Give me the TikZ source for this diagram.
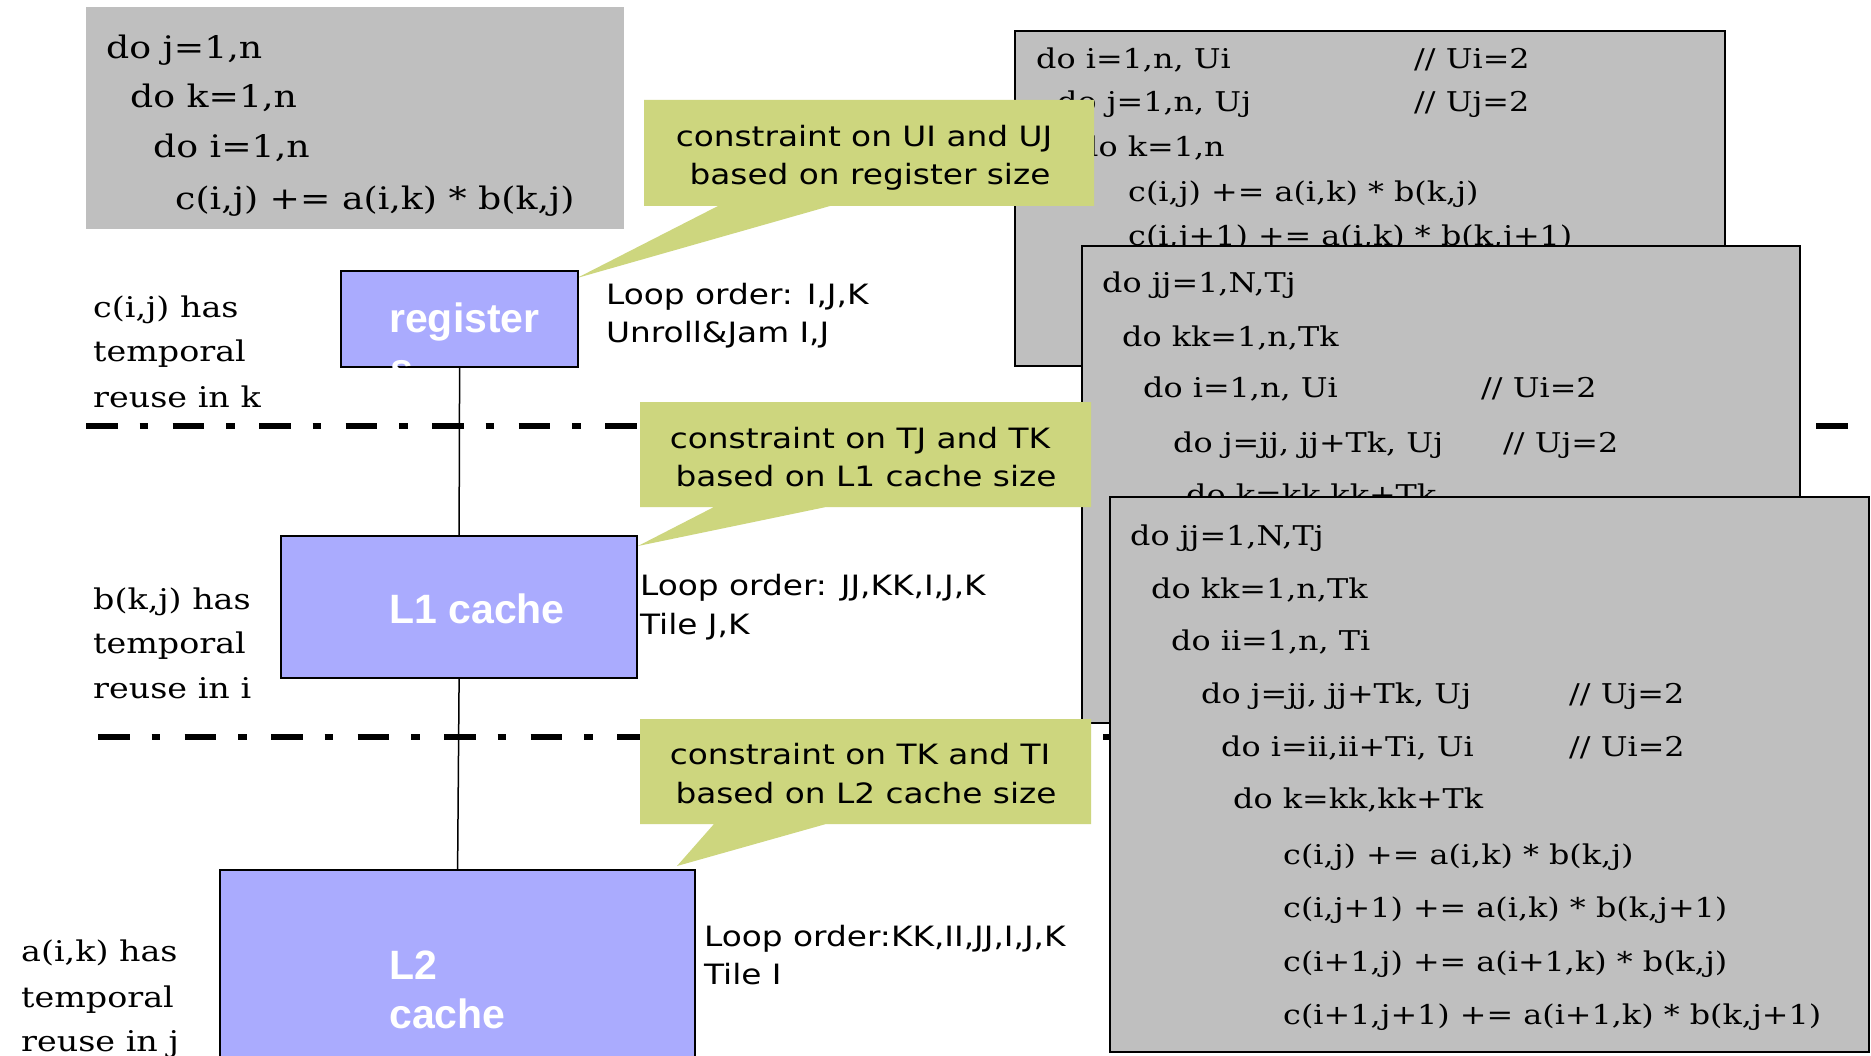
\documentclass[tikz,border=0pt]{standalone}
\usepackage{fontspec}
\newfontfamily\codefont{DejaVu Serif}[FakeStretch=1.17]
\newfontfamily\labelfont{DejaVu Sans}[FakeStretch=1.17]
\newfontfamily\boldfont{Liberation Sans}
\definecolor{boxgray}{RGB}{191,191,191}
\definecolor{cacheblue}{RGB}{170,171,254}
\definecolor{bubblegreen}{RGB}{205,214,126}
\begin{document}
\begin{tikzpicture}[x=1pt,y=-1pt,
  codebig/.style={anchor=base west,inner sep=0pt,font=\codefont\fontsize{31}{40}\selectfont},
  code/.style={anchor=base west,inner sep=0pt,font=\codefont\fontsize{27.2}{35}\selectfont},
  note/.style={anchor=base west,inner sep=0pt,font=\codefont\fontsize{28.5}{37}\selectfont},
  loop/.style={anchor=base west,inner sep=0pt,font=\labelfont\fontsize{28}{34}\selectfont},
  calltext/.style={anchor=base,inner sep=0pt,font=\labelfont\fontsize{28}{34}\selectfont},
  level/.style={draw=black,line width=2.2pt,fill=cacheblue,anchor=north west,inner sep=0pt},
  lvltext/.style={anchor=base west,inner sep=0pt,text=white,font=\boldfont\bfseries\fontsize{41}{49}\selectfont},
  codebox/.style={draw=black,line width=2.2pt,fill=boxgray},
  bubble/.style={fill=bubblegreen},
  sep/.style={line width=6pt,dash pattern=on 31.6pt off 22pt on 8.4pt off 24.5pt},
  link/.style={line width=1.5pt}]
\useasboundingbox (0,0) rectangle (1871,1056);
\fill[white] (0,0) rectangle (1871,1056);

% separators
\draw[sep] (86,426) -- (1852,426);
\draw[sep] (98,737) -- (1852,737);

% original loop
\fill[boxgray] (86,7) rectangle (624,229);
\node[codebig] (t1) at (106,59) {do j=1,n};
\node[codebig] (t2) at (130,108) {do k=1,n};
\node[codebig] (t3) at (153,158) {do i=1,n};
\node[codebig] (t4) at (175,210) {c(i,j) += a(i,k) * b(k,j)};

% box 1
\draw[codebox] (1015,31) rectangle (1725,366);
\node[code] (a1) at (1036,69) {do i=1,n, Ui};
\node[code] (a1c) at (1414,69) {// Ui=2};
\node[code] (a2) at (1057,112) {do j=1,n, Uj};
\node[code] (a2c) at (1414,112) {// Uj=2};
\node[code] (a3) at (1078,157) {do k=1,n};
\node[code] (a4) at (1128,202) {c(i,j) += a(i,k) * b(k,j)};
\node[code] (a5) at (1128,246) {c(i,j+1) += a(i,k) * b(k,j+1)};

% callout 1
\fill[bubble] (644,100) -- (1094,100) -- (1094,206) -- (830,206) -- (577,278) -- (718,206) -- (644,206) -- cycle;
\node[calltext] (c1a) at (864,147) {constraint on UI and UJ};
\node[calltext] (c1b) at (870,185) {based on register size};

% box 2
\draw[codebox] (1082,246) rectangle (1800,723);
\node[code] (b1) at (1102,293) {do jj=1,N,Tj};
\node[code] (b2) at (1122,347) {do kk=1,n,Tk};
\node[code] (b3) at (1143,398) {do i=1,n, Ui};
\node[code] (b3c) at (1481,398) {// Ui=2};
\node[code] (b4) at (1173,452) {do j=jj, jj+Tk, Uj};
\node[code] (b4c) at (1503,452) {// Uj=2};
\node[code] (b5) at (1186,504) {do k=kk,kk+Tk};

% box 3
\draw[codebox] (1110,497) rectangle (1869,1052);
\node[code] (d1) at (1130,545) {do jj=1,N,Tj};
\node[code] (d2) at (1151,598) {do kk=1,n,Tk};
\node[code] (d3) at (1171,650) {do ii=1,n, Ti};
\node[code] (d4) at (1201,703) {do j=jj, jj+Tk, Uj};
\node[code] (d4c) at (1569,703) {// Uj=2};
\node[code] (d5) at (1221,756) {do i=ii,ii+Ti, Ui};
\node[code] (d5c) at (1569,756) {// Ui=2};
\node[code] (d6) at (1233,808) {do k=kk,kk+Tk};
\node[code] (d7) at (1283,864) {c(i,j) += a(i,k) * b(k,j)};
\node[code] (d8) at (1283,917) {c(i,j+1) += a(i,k) * b(k,j+1)};
\node[code] (d9) at (1283,971) {c(i+1,j) += a(i+1,k) * b(k,j)};
\node[code] (d10) at (1283,1024) {c(i+1,j+1) += a(i+1,k) * b(k,j+1)};

% callouts 2 and 3
\fill[bubble] (640,402) -- (1091,402) -- (1091,507) -- (826,507) -- (638,546) -- (714,507) -- (640,507) -- cycle;
\node[calltext] (c2a) at (860,448) {constraint on TJ and TK};
\node[calltext] (c2b) at (866,486) {based on L1 cache size};
\fill[bubble] (640,719) -- (1091,719) -- (1091,824) -- (826,824) -- (677,866) -- (714,824) -- (640,824) -- cycle;
\node[calltext] (c3a) at (860,764) {constraint on TK and TI};
\node[calltext] (c3b) at (866,803) {based on L2 cache size};

% memory levels
\node[level,minimum width=237pt,minimum height=96pt] (reg) at (340,270) {};
\node[level,minimum width=356pt,minimum height=142pt] (l1) at (280,535) {};
\node[level,minimum width=475pt,minimum height=191pt] (l2) at (219,869) {};
\draw[link] (reg.south) -- (l1.north);
\draw[link] (l1.south) -- (l2.north);
\node[lvltext] (regt) at (389,333) {register};
\node[lvltext] (regs) at (390,383) {s};
\node[lvltext] (l1t) at (389,623) {L1 cache};
\node[lvltext] (l2t) at (389,979) {L2};
\node[lvltext] (l2u) at (389,1028) {cache};

% loop order labels
\node[loop] (o1) at (606,305) {Loop order: I,J,K};
\node[loop] (o2) at (606,343) {Unroll\&Jam I,J};
\node[loop] (o3) at (640,595) {Loop order: JJ,KK,I,J,K};
\node[loop] (o4) at (640,634) {Tile J,K};
\node[loop] (o5) at (704,946) {Loop order:KK,II,JJ,I,J,K};
\node[loop] (o6) at (704,984) {Tile I};

% reuse notes
\node[note] (n1) at (93,318) {c(i,j) has};
\node[note] (n2) at (93,362) {temporal};
\node[note] (n3) at (93,407) {reuse in k};
\node[note] (n4) at (93,609) {b(k,j) has};
\node[note] (n5) at (93,653) {temporal};
\node[note] (n6) at (93,698) {reuse in i};
\node[note] (n7) at (21,961) {a(i,k) has};
\node[note] (n8) at (21,1007) {temporal};
\node[note] (n9) at (21,1051) {reuse in j};
\end{tikzpicture}
\end{document}
